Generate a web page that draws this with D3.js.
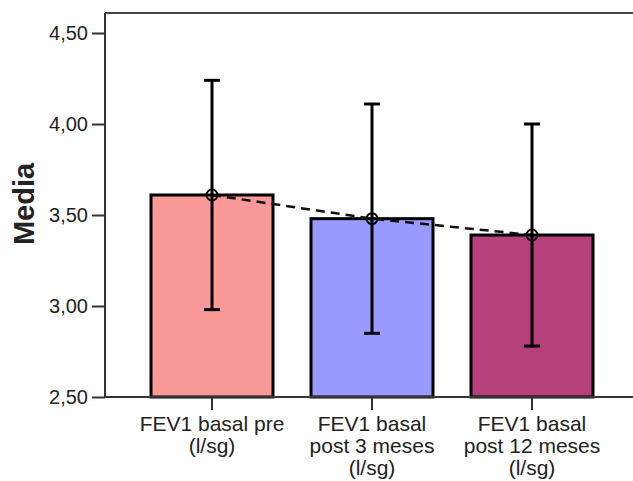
<!DOCTYPE html>
<html>
<head>
<meta charset="utf-8">
<script src="https://cdn.jsdelivr.net/npm/d3@7"></script>
<style>
  body { margin: 0; background: #fff; }
  svg text { font-family: "Liberation Sans", Arial, sans-serif; fill: #222; }
</style>
</head>
<body>
<div id="chart"></div>
<script>
// chart values
var categories = ['FEV1 basal pre (l/sg)', 'FEV1 basal post 3 meses (l/sg)', 'FEV1 basal post 12 meses (l/sg)'];
var labelLines = [['FEV1 basal pre', '(l/sg)'], ['FEV1 basal', 'post 3 meses', '(l/sg)'], ['FEV1 basal', 'post 12 meses', '(l/sg)']];
var means = [3.61, 3.48, 3.39];
var upper = [4.24, 4.11, 4.00];
var lower = [2.98, 2.85, 2.78];
var barColors = ['#f99a99', '#9a99fe', '#b5407b'];
var yTicks = [2.5, 3.0, 3.5, 4.0, 4.5];

var width = 633, height = 481;
var margin = {top: 13, left: 105, right: 0, bottom: 84};
var innerW = width - margin.left - margin.right,
    innerH = height - margin.top - margin.bottom;

var svg = d3.select('#chart').append('svg')
    .attr('width', width)
    .attr('height', height);

var g = svg.append('g')
    .attr('transform', 'translate(' + margin.left + ',' + margin.top + ')');

var yScale = d3.scaleLinear()
    .domain([2.5, 4.61])
    .range([innerH, 0]);

var xScale = d3.scaleBand()
    .domain(categories)
    .range([0, 534])
    .paddingInner(0.2375)
    .paddingOuter(0.2875);

// bars
g.selectAll('rect.bar')
    .data(categories)
    .enter()
    .append('rect')
    .attr('class', 'bar')
    .attr('x', function (d) { return xScale(d); })
    .attr('y', function (d, i) { return yScale(means[i]); })
    .attr('width', xScale.bandwidth())
    .attr('height', function (d, i) { return innerH - yScale(means[i]); })
    .attr('fill', function (d, i) { return barColors[i]; })
    .attr('stroke', '#000')
    .attr('stroke-width', 3);

// frame top line
g.append('line')
    .attr('x1', 0).attr('x2', innerW)
    .attr('y1', 0).attr('y2', 0)
    .attr('stroke', '#444').attr('stroke-width', 2);

var cx = function (d) { return xScale(d) + xScale.bandwidth() / 2; };

// dashed line between means
var line = d3.line()
    .x(function (d) { return cx(d); })
    .y(function (d, i) { return yScale(means[i]); });

g.append('path')
    .datum(categories)
    .attr('d', line)
    .attr('fill', 'none')
    .attr('stroke', '#111')
    .attr('stroke-width', 2.5)
    .attr('stroke-dasharray', '9,6');

// error bars
var eb = g.selectAll('g.err')
    .data(categories)
    .enter()
    .append('g')
    .attr('class', 'err');

eb.append('line')
    .attr('x1', cx).attr('x2', cx)
    .attr('y1', function (d, i) { return yScale(upper[i]); })
    .attr('y2', function (d, i) { return yScale(lower[i]); })
    .attr('stroke', '#000').attr('stroke-width', 3);

[upper, lower].forEach(function (arr) {
    eb.append('line')
        .attr('x1', function (d) { return cx(d) - 8; })
        .attr('x2', function (d) { return cx(d) + 8; })
        .attr('y1', function (d, i) { return yScale(arr[i]); })
        .attr('y2', function (d, i) { return yScale(arr[i]); })
        .attr('stroke', '#000').attr('stroke-width', 3);
});

eb.append('circle')
    .attr('cx', cx)
    .attr('cy', function (d, i) { return yScale(means[i]); })
    .attr('r', 5.5)
    .attr('fill', 'none')
    .attr('stroke', '#000').attr('stroke-width', 2);

eb.append('line')
    .attr('x1', function (d) { return cx(d) - 5.5; })
    .attr('x2', function (d) { return cx(d) + 5.5; })
    .attr('y1', function (d, i) { return yScale(means[i]); })
    .attr('y2', function (d, i) { return yScale(means[i]); })
    .attr('stroke', '#000').attr('stroke-width', 1.5);

// axes
var yAxis = d3.axisLeft(yScale)
    .tickValues(yTicks)
    .tickSize(13)
    .tickPadding(4)
    .tickFormat(function (d) { return d3.format('.2f')(d).replace('.', ','); });

var yAxisG = g.append('g').call(yAxis);
yAxisG.select('.domain').attr('stroke', '#333').attr('stroke-width', 2)
    .attr('d', 'M0,' + innerH + 'V0');
yAxisG.selectAll('.tick line').attr('stroke', '#333').attr('stroke-width', 2);
yAxisG.selectAll('.tick text')
    .attr('font-size', 20)
    .style('font-family', '"Liberation Sans", Arial, sans-serif')
    .attr('fill', '#333');

var xAxis = d3.axisBottom(xScale)
    .tickSize(13)
    .tickFormat('');

var xAxisG = g.append('g')
    .attr('transform', 'translate(0,' + innerH + ')')
    .call(xAxis);
xAxisG.select('.domain').attr('stroke', '#333').attr('stroke-width', 2)
    .attr('d', 'M0,0H' + innerW);
xAxisG.selectAll('.tick line').attr('stroke', '#333').attr('stroke-width', 2);

xAxisG.selectAll('.tick')
    .append('text')
    .attr('text-anchor', 'middle')
    .attr('font-size', 21)
    .attr('fill', '#333')
    .style('font-family', '"Liberation Sans", Arial, sans-serif')
    .selectAll('tspan')
    .data(function (d, i) { return labelLines[i]; })
    .enter()
    .append('tspan')
    .attr('x', 0)
    .attr('y', function (d, i) { return 34 + i * 22; })
    .text(function (d) { return d; });

// y title
svg.append('text')
    .attr('transform', 'translate(34,' + (margin.top + yScale(3.5) - 11) + ') rotate(-90)')
    .attr('text-anchor', 'middle')
    .attr('font-size', 29)
    .attr('font-weight', 'bold')
    .attr('fill', '#111')
    .text('Media');
</script>
</body>
</html>
